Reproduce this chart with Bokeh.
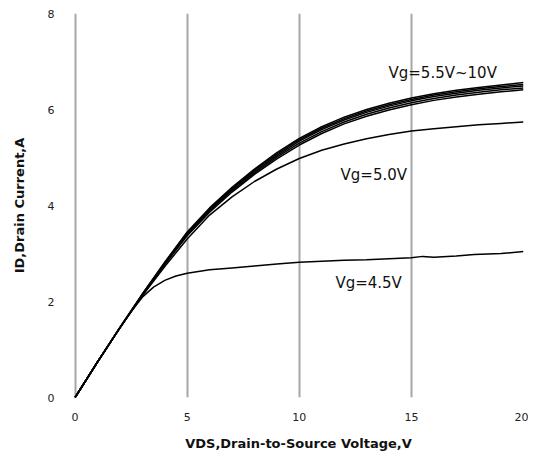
from bokeh.plotting import figure
from bokeh.models import FixedTicker, Range1d
from bokeh.core.properties import value
from bokeh.embed import file_html
from bokeh.resources import INLINE

# ---- data ----
vds = [0, 1, 2, 3, 4, 5, 6, 7, 8, 9, 10, 11, 12, 13, 14, 15, 16, 17, 18, 19, 20]
id_vg10 = [0, 0.74, 1.46, 2.16, 2.82, 3.45, 3.95, 4.38, 4.76, 5.10, 5.40, 5.64, 5.84, 6.00, 6.13, 6.24, 6.33, 6.40, 6.46, 6.51, 6.56]
id_vg8 = [0, 0.74, 1.46, 2.15, 2.81, 3.43, 3.93, 4.36, 4.74, 5.07, 5.37, 5.61, 5.81, 5.97, 6.10, 6.21, 6.30, 6.37, 6.43, 6.48, 6.52]
id_vg7 = [0, 0.74, 1.45, 2.14, 2.80, 3.41, 3.91, 4.34, 4.71, 5.04, 5.34, 5.58, 5.78, 5.94, 6.07, 6.18, 6.27, 6.34, 6.40, 6.45, 6.49]
id_vg6 = [0, 0.74, 1.45, 2.14, 2.79, 3.39, 3.89, 4.31, 4.68, 5.01, 5.30, 5.54, 5.74, 5.90, 6.03, 6.14, 6.23, 6.30, 6.36, 6.41, 6.45]
id_vg55 = [0, 0.74, 1.45, 2.13, 2.77, 3.37, 3.86, 4.28, 4.65, 4.97, 5.26, 5.50, 5.70, 5.86, 5.99, 6.10, 6.19, 6.26, 6.32, 6.37, 6.41]
id_vg5 = [0, 0.74, 1.45, 2.12, 2.73, 3.30, 3.80, 4.18, 4.50, 4.76, 4.98, 5.15, 5.28, 5.39, 5.48, 5.55, 5.60, 5.64, 5.68, 5.71, 5.74]

vds_45 = [0, 1, 2, 2.5, 3, 3.5, 4, 4.5, 5, 6, 7, 8, 9, 10, 11, 12, 13, 14, 15, 15.5, 16, 17, 17.8, 19, 20]
id_vg45 = [0, 0.74, 1.45, 1.79, 2.09, 2.30, 2.44, 2.53, 2.59, 2.66, 2.70, 2.74, 2.78, 2.82, 2.84, 2.86, 2.87, 2.89, 2.91, 2.94, 2.92, 2.95, 2.98, 3.00, 3.04]

labels = ["Vg=5.5V~10V", "Vg=5.0V", "Vg=4.5V"]
label_x = [13.98, 11.84, 11.61]
label_y = [6.77, 4.63, 2.38]

x_ticks = [0, 5, 10, 15, 20]
grid_ticks = [0, 5, 10, 15]
y_ticks = [0, 2, 4, 6, 8]

FONT = "DejaVu Sans"

p = figure(width=528, height=453, output_backend="svg", toolbar_location=None,
           x_range=Range1d(-0.07, 20), y_range=Range1d(0, 8),
           min_border_left=73, min_border_right=5, min_border_top=13, min_border_bottom=56)
p.outline_line_color = None
p.background_fill_color = "white"

p.xaxis.ticker = FixedTicker(ticks=x_ticks)
p.yaxis.ticker = FixedTicker(ticks=y_ticks)
p.xgrid.ticker = FixedTicker(ticks=grid_ticks)
p.xgrid.grid_line_color = "#a6a6a6"
p.xgrid.grid_line_width = 2
p.ygrid.grid_line_color = None

for ax in (p.xaxis, p.yaxis):
    ax.axis_line_color = None
    ax.major_tick_line_color = None
    ax.minor_tick_line_color = None
    ax.major_label_text_font = FONT
    ax.major_label_text_font_size = "11px"
    ax.major_label_text_color = "#222222"
    ax.axis_label_text_font = FONT
    ax.axis_label_text_font_size = "13px"
    ax.axis_label_text_font_style = "bold"
    ax.axis_label_text_color = "#111111"

p.xaxis.major_label_standoff = 9
p.yaxis.major_label_standoff = 13
p.xaxis.axis_label = "VDS,Drain-to-Source Voltage,V"
p.yaxis.axis_label = "ID,Drain Current,A"
p.xaxis.axis_label_standoff = 12
p.yaxis.axis_label_standoff = 18

for ys in (id_vg10, id_vg8, id_vg7, id_vg6, id_vg55):
    p.line(vds, ys, line_color="black", line_width=1.5)
p.line(vds, id_vg5, line_color="black", line_width=1.5)
p.line(vds_45, id_vg45, line_color="black", line_width=1.5)

p.text(x=label_x, y=label_y, text=labels, text_font=value(FONT), text_font_size="15px",
       text_baseline="middle", text_align="left", text_color="#111111")

open("out.html", "w").write(file_html(p, INLINE))
